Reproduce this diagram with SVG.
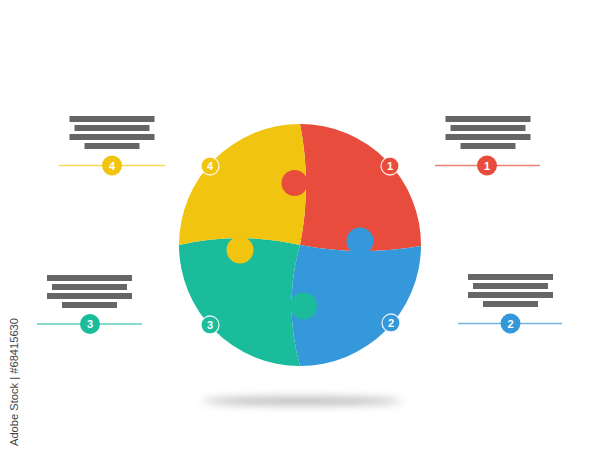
<svg xmlns="http://www.w3.org/2000/svg" width="600" height="450" viewBox="0 0 600 450">
<defs>
<filter id="blur" x="-20%" y="-400%" width="140%" height="900%"><feGaussianBlur stdDeviation="4"/></filter>
<style>
.red{fill:#E74C3C}.blue{fill:#3498DB}.green{fill:#1ABC9C}.yellow{fill:#F1C40F}
.bar{fill:#666}
.num{font-family:"Liberation Sans",Arial,sans-serif;font-weight:bold;font-size:11px;fill:#fff;text-anchor:middle}
.ring{stroke:#fff;stroke-width:1.3;stroke-opacity:0.85}
.ln{stroke-width:1.5;fill:none;stroke-opacity:0.7}
</style>
</defs>
<rect width="600" height="450" fill="#fff"/>
<ellipse cx="302" cy="401" rx="100" ry="3.5" fill="#999" filter="url(#blur)" opacity="0.8"/>
<g id="puzzle">
<path id="piece1" class="red" d="M300,124 A121,121 0 0 1 421,246 Q360,256.5 300,245 Q312,184.5 300,124 Z"/>
<path id="piece2" class="blue" d="M421,246 A121,121 0 0 1 300,366 Q283,305 300,245 Q360,256.5 421,246 Z"/>
<path id="piece3" class="green" d="M300,366 A121,121 0 0 1 179,245 Q240,231 300,245 Q283,305 300,366 Z"/>
<path id="piece4" class="yellow" d="M179,245 A121,121 0 0 1 300,124 Q312,184.5 300,245 Q240,231 179,245 Z"/>
<circle class="red" cx="294.5" cy="183" r="13"/>
<circle class="blue" cx="360" cy="241" r="13.5"/>
<circle class="green" cx="303.5" cy="306" r="13.5"/>
<circle class="yellow" cx="240" cy="250" r="13.5"/>
</g>
<g id="badge1"><circle class="red ring" cx="390" cy="166" r="9"/><text class="num" x="390" y="170">1</text></g>
<g id="badge2"><circle class="blue ring" cx="391" cy="323" r="9"/><text class="num" x="391" y="327">2</text></g>
<g id="badge3"><circle class="green ring" cx="210" cy="325" r="9"/><text class="num" x="210" y="329">3</text></g>
<g id="badge4"><circle class="yellow ring" cx="210" cy="166" r="9"/><text class="num" x="210" y="170">4</text></g>
<g id="connectors">
<line class="ln" x1="59" y1="165.5" x2="165" y2="165.5" stroke="#F1C40F"/>
<line class="ln" x1="435" y1="165.5" x2="540" y2="165.5" stroke="#E74C3C"/>
<line class="ln" x1="37" y1="324" x2="142" y2="324" stroke="#1ABC9C"/>
<line class="ln" x1="458" y1="323.5" x2="562" y2="323.5" stroke="#3498DB"/>
</g>
<g id="label4">
<rect class="bar" x="69.5" y="116" width="85" height="6"/>
<rect class="bar" x="74.5" y="125" width="75" height="6"/>
<rect class="bar" x="69.5" y="134" width="85" height="6"/>
<rect class="bar" x="84.5" y="143" width="55" height="6"/>
<circle class="yellow" cx="112" cy="165.5" r="10"/><text class="num" x="112" y="169.5">4</text>
</g>
<g id="label1">
<rect class="bar" x="445.5" y="116" width="85" height="6"/>
<rect class="bar" x="450.5" y="125" width="75" height="6"/>
<rect class="bar" x="445.5" y="134" width="85" height="6"/>
<rect class="bar" x="460.5" y="143" width="55" height="6"/>
<circle class="red" cx="487" cy="165.5" r="10"/><text class="num" x="487" y="169.5">1</text>
</g>
<g id="label3">
<rect class="bar" x="47" y="275" width="85" height="6"/>
<rect class="bar" x="52" y="284" width="75" height="6"/>
<rect class="bar" x="47" y="293" width="85" height="6"/>
<rect class="bar" x="62" y="302" width="55" height="6"/>
<circle class="green" cx="90" cy="324" r="10"/><text class="num" x="90" y="328">3</text>
</g>
<g id="label2">
<rect class="bar" x="468" y="274" width="85" height="6"/>
<rect class="bar" x="473" y="283" width="75" height="6"/>
<rect class="bar" x="468" y="292" width="85" height="6"/>
<rect class="bar" x="483" y="301" width="55" height="6"/>
<circle class="blue" cx="510.5" cy="323.5" r="10"/><text class="num" x="510.5" y="327.5">2</text>
</g>
<text transform="translate(18,446) rotate(-90)" font-family="'Liberation Sans',Arial,sans-serif" font-size="11" fill="#444" textLength="128" lengthAdjust="spacingAndGlyphs">Adobe Stock | #68415630</text>
</svg>
